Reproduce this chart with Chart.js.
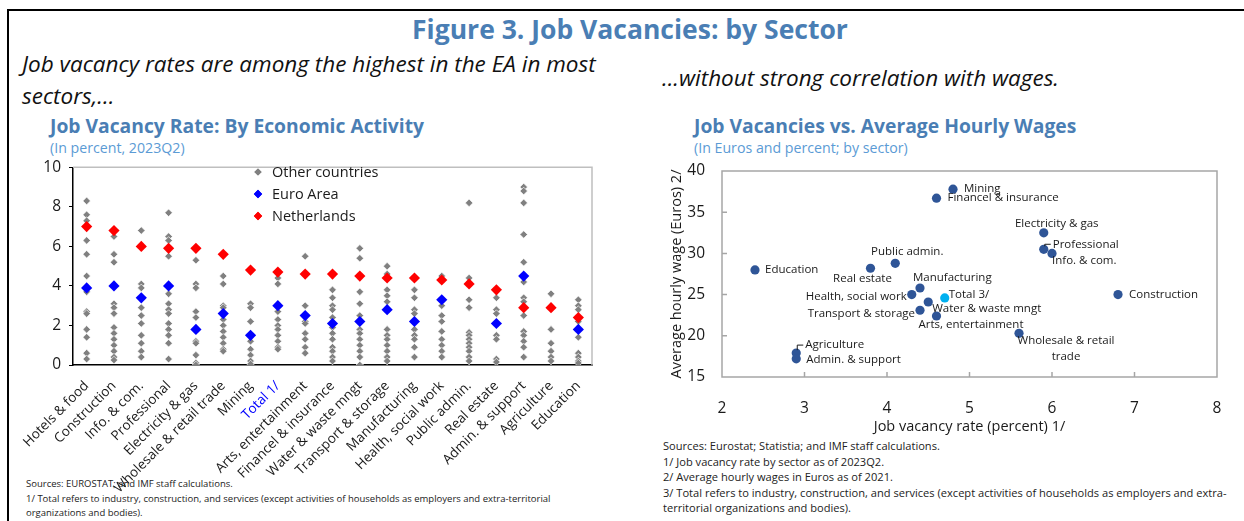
<!DOCTYPE html>
<html>
<head>
<meta charset="utf-8">
<script src="https://cdn.jsdelivr.net/npm/chart.js@4/dist/chart.umd.min.js"></script>
<style>
  body { margin: 0; background: #fff; font-family: 'Open Sans', sans-serif; }
  #page { position: relative; width: 1244px; height: 521px; overflow: hidden; }
  .abs { position: absolute; white-space: nowrap; }
  .frame-top { left: 8px; top: 9px; width: 1236px; height: 2px; background: #000; }
  .frame-left { left: 7px; top: 9px; width: 2px; height: 512px; background: #000; }
  .fig-title { left: 0; width: 1260px; top: 11px; text-align: center; font-size: 26.5px; line-height: 36px; font-weight: 700; color: #4a7eb4; }
  .lead { font-size: 22.5px; font-style: italic; color: #111; line-height: 32px; }
  .chart-title { font-size: 19.3px; line-height: 26px; font-weight: 700; color: #4a7eb4; }
  .chart-sub { font-size: 14.2px; line-height: 19px; color: #5b9bd5; }
  .notes { font-size: 11.1px; color: #222; line-height: 15.5px; }
  .notes-small { font-size: 9.5px; color: #222; line-height: 14.5px; }
</style>
</head>
<body>
<div id="page">
  <div class="abs frame-top"></div>
  <div class="abs frame-left"></div>
  <div class="abs fig-title">Figure 3. Job Vacancies: by Sector</div>

  <div class="abs lead" style="left:22px; top:48px;">Job vacancy rates are among the highest in the EA in most<br>sectors,...</div>
  <div class="abs lead" style="left:662px; top:62px;">...without strong correlation with wages.</div>

  <div class="abs chart-title" style="left:50px; top:113px;">Job Vacancy Rate: By Economic Activity</div>
  <div class="abs chart-sub" style="left:50px; top:138px;">(In percent, 2023Q2)</div>
  <div class="abs chart-title" style="left:694px; top:113px;">Job Vacancies vs. Average Hourly Wages</div>
  <div class="abs chart-sub" style="left:694px; top:138px;">(In Euros and percent; by sector)</div>

  <div class="abs notes-small" style="left:26px; top:477px;">Sources: EUROSTAT; and IMF staff calculations.<br>1/ Total refers to industry, construction, and services (except activities of households as employers and extra-territorial<br>organizations and bodies).</div>
  <div class="abs notes" style="left:663px; top:438px;">Sources: Eurostat; Statistia; and IMF staff calculations.<br>1/ Job vacancy rate by sector as of 2023Q2.<br>2/ Average hourly wages in Euros as of 2021.<br>3/ Total refers to industry, construction, and services (except activities of households as employers and extra-<br>territorial organizations and bodies).</div>

  <div class="abs" style="left:0; top:150px;"><canvas id="left-chart" width="610" height="360"></canvas></div>
  <div class="abs" style="left:640px; top:150px;"><canvas id="right-chart" width="604" height="290"></canvas></div>
</div>

<script>
// ---- Left chart data: job vacancy rate by economic activity (percent, 2023Q2)
const sectors = [
  "Hotels & food", "Construction", "Info. & com.", "Professional",
  "Electricity & gas", "Wholesale & retail trade", "Mining", "Total 1/",
  "Arts, entertainment", "Financel & insurance", "Water & waste mngt",
  "Transport & storage", "Manufacturing", "Health, social work",
  "Public admin.", "Real estate", "Admin. & support", "Agriculture", "Education"
];

const netherlands = [7.0, 6.8, 6.0, 5.9, 5.9, 5.6, 4.8, 4.7, 4.6, 4.6, 4.5, 4.4, 4.4, 4.3, 4.1, 3.8, 2.9, 2.9, 2.4];
const euroArea = [3.9, 4.0, 3.4, 4.0, 1.8, 2.6, 1.5, 3.0, 2.5, 2.1, 2.2, 2.8, 2.2, 3.3, null, 2.1, 4.5, null, 1.8];

// one list per sector, same order as sectors
const otherCountries = [
  [8.3, 7.6, 7.3, 6.3, 5.6, 4.5, 3.7, 2.7, 2.6, 1.8, 1.4, 0.6, 0.3],
  [6.5, 5.6, 5.2, 3.1, 2.9, 2.6, 1.9, 1.6, 1.3, 1.0, 0.7, 0.4, 0.25],
  [6.8, 4.1, 3.9, 2.9, 2.5, 2.1, 1.5, 1.1, 0.7, 0.4],
  [7.7, 6.5, 6.3, 5.5, 3.6, 3.1, 2.8, 2.6, 2.1, 1.8, 1.5, 1.1, 0.3],
  [5.3, 4.1, 3.9, 2.7, 2.4, 1.2, 1.1, 0.5, 0.1, 0.0],
  [4.5, 4.1, 3.0, 2.9, 2.3, 2.0, 1.7, 1.4, 1.1, 0.8, 0.7],
  [3.1, 2.9, 2.2, 1.2, 0.8, 0.5, 0.2, 0.05],
  [4.4, 4.1, 2.7, 2.3, 2.0, 1.8, 1.5, 1.2, 0.9, 0.8],
  [5.5, 3.0, 2.2, 2.1, 1.6, 1.3, 0.9, 0.6],
  [3.8, 3.4, 3.0, 2.8, 2.4, 1.9, 1.6, 1.3, 0.9, 0.7, 0.4, 0.2],
  [5.9, 5.4, 3.7, 3.1, 2.5, 1.8, 1.6, 1.3, 1.0, 0.7, 0.4, 0.0],
  [5.0, 4.6, 3.8, 3.5, 3.2, 1.8, 1.5, 1.3, 1.0, 0.7, 0.4, 0.2],
  [3.8, 3.4, 2.8, 2.6, 1.8, 1.5, 1.3, 0.9, 0.4],
  [4.5, 3.0, 2.5, 2.2, 1.7, 1.3, 1.0, 0.7, 0.4],
  [8.2, 4.4, 3.3, 2.9, 1.65, 1.5, 1.3, 1.1, 0.9, 0.7, 0.4, 0.2],
  [3.4, 2.8, 2.6, 1.5, 1.3, 0.3, 0.15],
  [9.0, 8.8, 8.2, 6.6, 5.2, 4.2, 3.4, 3.2, 2.5, 1.7, 1.5, 1.2, 0.9, 0.4],
  [3.6, 1.8, 1.1, 0.7, 0.4, 0.2],
  [3.3, 3.0, 2.8, 2.2, 1.4, 0.6, 0.4, 0.2, 0.1]
];
const rateTicks = [0, 2, 4, 6, 8, 10];

// ---- Right chart data: vacancies vs hourly wages
const wageSectors = [
  "Mining", "Financel & insurance", "Electricity & gas", "Professional",
  "Info. & com.", "Construction", "Education", "Real estate", "Public admin.",
  "Manufacturing", "Health, social work", "Total 3/", "Water & waste mngt",
  "Transport & storage", "Arts, entertainment", "Wholesale & retail trade",
  "Agriculture", "Admin. & support"
];
const vacancyRate = [4.8, 4.6, 5.9, 5.9, 6.0, 6.8, 2.4, 3.8, 4.1, 4.4, 4.3, 4.7, 4.5, 4.4, 4.6, 5.6, 2.9, 2.9];
const hourlyWage = [37.8, 36.7, 32.5, 30.5, 30.0, 25.0, 28.0, 28.2, 28.8, 25.8, 25.0, 24.6, 24.1, 23.1, 22.4, 20.3, 17.9, 17.2];

// where each point label sits, relative to the point: [dx, dy, align]
const labelSpots = {
  "Mining": [11, 0, "left"],
  "Financel & insurance": [11, 0, "left"],
  "Electricity & gas": [13, -9, "center"],
  "Professional": [9, -5, "left"],
  "Info. & com.": [0, 7, "left"],
  "Construction": [11, 0, "left"],
  "Education": [10, 0, "left"],
  "Real estate": [-8, 10, "center"],
  "Public admin.": [12, -12, "center"],
  "Manufacturing": [-7, -10, "left"],
  "Health, social work": [-5, 2, "right"],
  "Total 3/": [4, -3, "left"],
  "Water & waste mngt": [4, 7, "left"],
  "Transport & storage": [-5, 3, "right"],
  "Arts, entertainment": [-18, 9, "left"],
  "Wholesale & retail trade": [47, 7, "center"],
  "Agriculture": [9, -8, "left"],
  "Admin. & support": [10, 1, "left"]
};
const leaderLines = ["Professional", "Agriculture"];

const FONT = "'Open Sans', sans-serif";

// ---- plugins
const leftFrame = {
  id: "leftFrame",
  beforeDatasetsDraw(chart) {
    const { ctx, chartArea: a } = chart;
    ctx.save();
    ctx.strokeStyle = "#bfbfbf";
    ctx.lineWidth = 1.5;
    ctx.beginPath();
    ctx.moveTo(a.left, a.top);
    ctx.lineTo(a.right, a.top);
    ctx.lineTo(a.right, a.bottom);
    ctx.stroke();
    ctx.restore();
  },
  afterDraw(chart) {
    // legend inside the plot
    const { ctx } = chart;
    const items = [
      ["Other countries", "#808080", 3.6],
      ["Euro Area", "#0000ff", 4.2],
      ["Netherlands", "#ff0000", 4.2]
    ];
    ctx.save();
    ctx.font = "14.5px " + FONT;
    ctx.textBaseline = "middle";
    items.forEach((it, i) => {
      const y = 22 + i * 22;
      ctx.fillStyle = it[1];
      Chart.helpers.drawPoint(ctx, { pointStyle: "rectRot", radius: it[2], rotation: 0, borderWidth: 0 }, 258, y);
      ctx.fill();
      ctx.fillStyle = "#1a1a1a";
      ctx.fillText(it[0], 272, y + 1);
    });
    ctx.restore();
  }
};

const rightFrame = {
  id: "rightFrame",
  beforeDatasetsDraw(chart) {
    const { ctx, chartArea: a, scales } = chart;
    ctx.save();
    ctx.strokeStyle = "#a6a6a6";
    ctx.lineWidth = 1.5;
    ctx.strokeRect(a.left, a.top, a.right - a.left, a.bottom - a.top);
    ctx.beginPath();
    // inward tick marks
    [3, 4, 5, 6, 7].forEach(v => {
      const x = scales.x.getPixelForValue(v);
      ctx.moveTo(x, a.bottom);
      ctx.lineTo(x, a.bottom - 5);
    });
    [20, 25, 30, 35].forEach(v => {
      const y = scales.y.getPixelForValue(v);
      ctx.moveTo(a.left, y);
      ctx.lineTo(a.left + 5, y);
    });
    ctx.stroke();
    ctx.restore();
  },
  afterDatasetsDraw(chart) {
    const { ctx } = chart;
    const meta = chart.getDatasetMeta(0);
    ctx.save();
    ctx.font = "11.5px " + FONT;
    ctx.fillStyle = "#1a1a1a";
    ctx.textBaseline = "middle";
    meta.data.forEach((pt, i) => {
      const name = wageSectors[i];
      const [dx, dy, align] = labelSpots[name];
      const x = pt.x + dx, y = pt.y + dy;
      ctx.textAlign = align;
      if (name === "Wholesale & retail trade") {
        ctx.fillText("Wholesale & retail", x, y);
        ctx.fillText("trade", x, y + 16);
      } else {
        ctx.fillText(name, x, y);
      }
      if (leaderLines.includes(name)) {
        ctx.strokeStyle = "#1a1a1a";
        ctx.lineWidth = 1;
        ctx.beginPath();
        ctx.moveTo(pt.x + 1, pt.y - 3);
        ctx.lineTo(pt.x + 1, y);
        ctx.lineTo(x - 2, y);
        ctx.stroke();
      }
    });
    ctx.restore();
  }
};

// ---- left chart
const leftCtx = document.getElementById("left-chart").getContext("2d");
new Chart(leftCtx, {
  type: "scatter",
  data: {
    datasets: [
      {
        label: "Other countries",
        data: sectors.flatMap((s, i) => otherCountries[i].map(v => ({ x: s, y: v }))),
        pointStyle: "rectRot",
        pointRadius: 3.8,
        backgroundColor: "#808080",
        borderColor: "rgba(255,255,255,0.85)",
        pointBorderWidth: 0.8,
        order: 3
      },
      {
        label: "Euro Area",
        data: sectors.map((s, i) => ({ x: s, y: euroArea[i] })).filter(p => p.y !== null),
        pointStyle: "rectRot",
        pointRadius: 5.6,
        backgroundColor: "#0000ff",
        borderColor: "#0000ff",
        pointBorderWidth: 0,
        order: 2
      },
      {
        label: "Netherlands",
        data: sectors.map((s, i) => ({ x: s, y: netherlands[i] })),
        pointStyle: "rectRot",
        pointRadius: 5.6,
        backgroundColor: "#ff0000",
        borderColor: "#ff0000",
        pointBorderWidth: 0,
        order: 1
      }
    ]
  },
  options: {
    responsive: false,
    animation: false,
    layout: { padding: { top: 13, right: 18, left: 0, bottom: 0 } },
    plugins: { legend: { display: false }, tooltip: { enabled: false } },
    scales: {
      x: {
        type: "category",
        labels: sectors,
        offset: true,
        afterFit: s => { s.height = 145; },
        grid: { display: false },
        border: { display: true, color: "#000", width: 1.5 },
        ticks: {
          autoSkip: false,
          minRotation: 45,
          maxRotation: 45,
          padding: 5,
          font: { family: FONT, size: 13.5 },
          color: c => (c.index === 7 ? "#0000ff" : "#1a1a1a")
        }
      },
      y: {
        min: 0,
        max: 10,
        afterFit: s => { s.width = 73; },
        afterBuildTicks: s => { s.ticks = rateTicks.map(v => ({ value: v })); },
        grid: { drawOnChartArea: false, drawTicks: true, tickLength: 4, color: "#000" },
        border: { display: true, color: "#000", width: 1.5 },
        ticks: { padding: 8, font: { family: FONT, size: 15.5 }, color: "#1a1a1a" }
      }
    }
  },
  plugins: [leftFrame]
});

// ---- right chart
const rightCtx = document.getElementById("right-chart").getContext("2d");
new Chart(rightCtx, {
  type: "scatter",
  data: {
    datasets: [
      {
        label: "Sectors",
        data: wageSectors.map((s, i) => ({ x: vacancyRate[i], y: hourlyWage[i] })),
        pointRadius: 4.6,
        pointBorderWidth: 0,
        backgroundColor: c => (wageSectors[c.dataIndex] === "Total 3/" ? "#00b0f0" : "#2f5597")
      }
    ]
  },
  options: {
    responsive: false,
    animation: false,
    layout: { padding: { top: 21, right: 27, left: 26, bottom: 0 } },
    plugins: { legend: { display: false }, tooltip: { enabled: false } },
    scales: {
      x: {
        min: 2,
        max: 8,
        afterFit: s => { s.height = 63; },
        ticks: { stepSize: 1, padding: 14, font: { family: FONT, size: 15.5 }, color: "#1a1a1a" },
        grid: { display: false },
        border: { display: false },
        title: { display: true, text: "Job vacancy rate (percent) 1/", font: { family: FONT, size: 14.5 }, color: "#1a1a1a", padding: { top: 2 } }
      },
      y: {
        min: 15,
        max: 40,
        afterFit: s => { s.width = 56; },
        ticks: { stepSize: 5, padding: 9, font: { family: FONT, size: 15.5 }, color: "#1a1a1a" },
        grid: { display: false },
        border: { display: false },
        title: { display: true, text: "Average hourly wage (Euros) 2/", font: { family: FONT, size: 14.5 }, color: "#1a1a1a", padding: { top: 2, bottom: 2 } }
      }
    }
  },
  plugins: [rightFrame]
});
</script>
</body>
</html>
